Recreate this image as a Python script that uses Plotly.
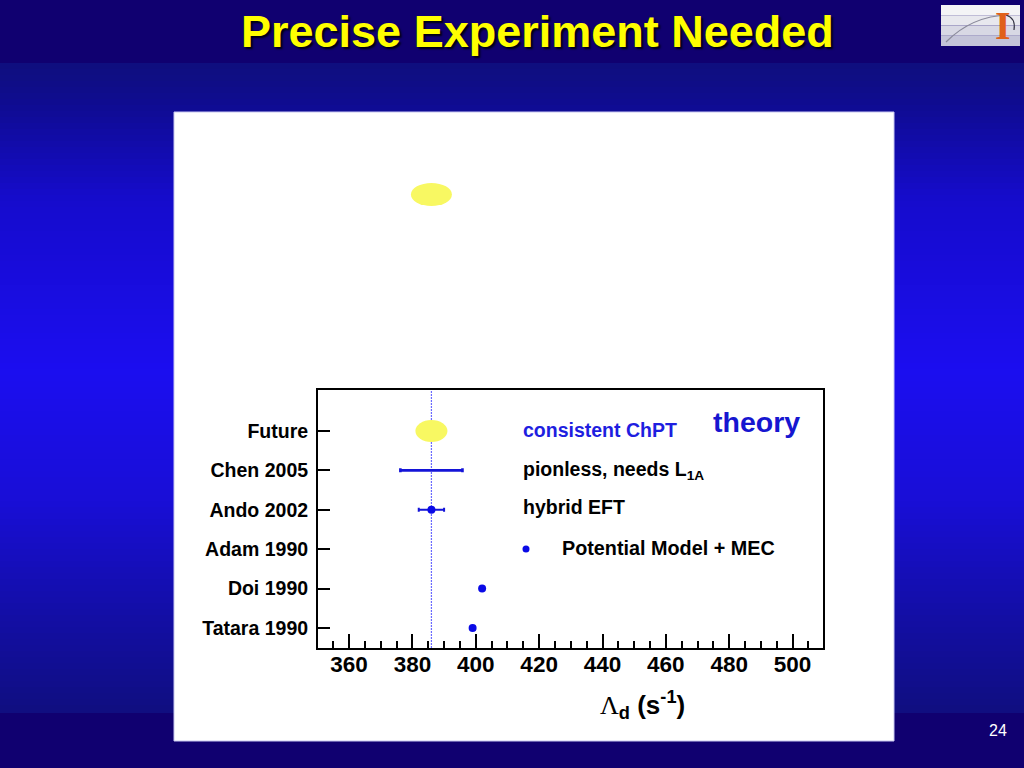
import numpy as np
import plotly.graph_objects as go

# ---------------- data ----------------
labels = ["Tatara 1990", "Doi 1990", "Adam 1990", "Ando 2002", "Chen 2005", "Future"]
ypos = [0, 1, 2, 3, 4, 5]

pot_labels = ["Tatara 1990", "Doi 1990"]
pot_values = [399.0, 402.0]

ando_value = [386.0]
ando_err = [4.0]

chen_value = [386.0]
chen_err = [9.8]

future_value = 386.0

x_tickvals = [360, 380, 400, 420, 440, 460, 480, 500]

W, H = 1024, 768
def px(x):
    return x / W
def py(y):
    return 1 - y / H

ymap = dict(zip(labels, ypos))

fig = go.Figure()

BLUE = "#0a0ae6"

# Chen 2005 (error bar only)
fig.add_trace(go.Scatter(
    x=chen_value, y=[ymap["Chen 2005"]], mode="markers",
    marker=dict(size=1, color="rgba(0,0,0,0)"),
    error_x=dict(type="data", array=chen_err, color="#1414d8", thickness=2.6, width=2),
    showlegend=False, hoverinfo="skip"))

# Ando 2002
fig.add_trace(go.Scatter(
    x=ando_value, y=[ymap["Ando 2002"]], mode="markers",
    marker=dict(size=8, color=BLUE),
    error_x=dict(type="data", array=ando_err, color="#1414d8", thickness=2, width=2),
    showlegend=False, hoverinfo="skip"))

# Potential model + MEC
fig.add_trace(go.Scatter(
    x=pot_values, y=[ymap[l] for l in pot_labels], mode="markers",
    marker=dict(size=8, color=BLUE),
    showlegend=False, hoverinfo="skip"))

shapes = []

# ---- slide background gradient ----
stops_y = [63, 98, 200, 370, 500, 600, 713]
stops_c = [(15, 15, 126), (15, 13, 142), (22, 12, 205), (28, 14, 240), (25, 14, 215), (20, 14, 172), (16, 14, 128)]
shapes.append(dict(type="rect", xref="paper", yref="paper", x0=0, x1=1, y0=0, y1=1,
                   fillcolor="rgb(16,0,112)", line=dict(width=0), layer="below"))
band = 6
for y0 in range(63, 713, band):
    yc = y0 + band / 2
    c = [int(np.interp(yc, stops_y, [s[i] for s in stops_c])) for i in range(3)]
    shapes.append(dict(type="rect", xref="paper", yref="paper", x0=0, x1=1,
                       y0=py(min(y0 + band, 713)), y1=py(y0),
                       fillcolor=f"rgb({c[0]},{c[1]},{c[2]})", line=dict(width=0), layer="below"))

# white panel
shapes.append(dict(type="rect", xref="paper", yref="paper", x0=px(174), x1=px(894),
                   y0=py(741), y1=py(112), fillcolor="white",
                   line=dict(color="#c8c8f0", width=1), layer="below"))

# logo box
logo_c = ["#f4f4f6", "#e8e8ee", "#d8d8e4", "#c4c4d8"]
for i, c in enumerate(logo_c):
    yy0 = 5 + i * 41 / 4
    shapes.append(dict(type="rect", xref="paper", yref="paper", x0=px(941), x1=px(1020),
                       y0=py(yy0 + 41 / 4), y1=py(yy0), fillcolor=c, line=dict(width=0), layer="below"))
shapes.append(dict(type="path", xref="paper", yref="paper",
                   path=f"M {px(946)},{py(42)} Q {px(972)},{py(16)} {px(1008)},{py(15)}",
                   line=dict(color="#8a8a9a", width=1.2), layer="below"))
shapes.append(dict(type="path", xref="paper", yref="paper",
                   path=f"M {px(1006)},{py(15)} Q {px(1016)},{py(18)} {px(1014)},{py(30)}",
                   line=dict(color="#303040", width=1.2), layer="below"))

# upper yellow blob (same x as the Future marker)
shapes.append(dict(type="circle", xref="x", yref="paper",
                   xsizemode="pixel", xanchor=future_value, x0=-20.5, x1=20.5,
                   ysizemode="pixel", yanchor=py(194.5), y0=-11.5, y1=11.5,
                   fillcolor="#f8f862", line=dict(width=0), layer="below"))

# Future ellipse
shapes.append(dict(type="circle", xref="x", yref="y",
                   xsizemode="pixel", xanchor=future_value, x0=-16, x1=16,
                   ysizemode="pixel", yanchor=ymap["Future"], y0=-11, y1=11,
                   fillcolor="#f8f862", line=dict(width=0), layer="below"))

# vertical dotted reference line
shapes.append(dict(type="line", xref="x", yref="y domain", x0=future_value, x1=future_value,
                   y0=0, y1=1, line=dict(color="#6a6aff", width=1.2, dash="2px,1px"), layer="below"))

# legend bullet
shapes.append(dict(type="circle", xref="paper", yref="paper",
                   xsizemode="pixel", xanchor=px(526), x0=-3.5, x1=3.5,
                   ysizemode="pixel", yanchor=py(549), y0=-3.5, y1=3.5,
                   fillcolor=BLUE, line=dict(width=0)))

FONT = "Liberation Sans, Arial, Helvetica, sans-serif"

annotations = [
    dict(text="Precise Experiment Needed", x=px(537), y=py(32), xref="paper", yref="paper",
         showarrow=False, xanchor="center", yanchor="middle",
         font=dict(family=FONT, size=45, color="#ffff00", weight="bold",
                   shadow="2px 2px 2px #000010")),
    dict(text="I", x=px(1003), y=py(26), xref="paper", yref="paper", showarrow=False,
         xanchor="center", yanchor="middle",
         font=dict(family="Liberation Serif, Times New Roman, serif", size=40, color="#e0601a", weight="bold")),
    dict(text="24", x=px(998), y=py(730), xref="paper", yref="paper", showarrow=False,
         xanchor="center", yanchor="middle", font=dict(family=FONT, size=16, color="white")),
    dict(text="consistent ChPT", x=px(521), y=py(430), xref="paper", yref="paper", showarrow=False,
         xanchor="left", yanchor="middle", font=dict(family=FONT, size=19.5, color="#1e1ee0", weight="bold")),
    dict(text="theory", x=px(711), y=py(422), xref="paper", yref="paper", showarrow=False,
         xanchor="left", yanchor="middle", font=dict(family=FONT, size=28.5, color="#1616d0", weight="bold")),
    dict(text="pionless, needs L<sub>1A</sub>", x=px(521), y=py(470), xref="paper", yref="paper", showarrow=False,
         xanchor="left", yanchor="middle", font=dict(family=FONT, size=19.5, color="black", weight="bold")),
    dict(text="hybrid EFT", x=px(521), y=py(507), xref="paper", yref="paper", showarrow=False,
         xanchor="left", yanchor="middle", font=dict(family=FONT, size=19.5, color="black", weight="bold")),
    dict(text="Potential Model + MEC", x=px(560), y=py(548), xref="paper", yref="paper", showarrow=False,
         xanchor="left", yanchor="middle", font=dict(family=FONT, size=19.8, color="black", weight="bold")),
    dict(text="<span style='font-family:Liberation Serif,Times New Roman,serif;font-weight:normal'>Λ</span>"
              "<sub>d</sub> (s<sup>-1</sup>)",
         x=px(642), y=py(705), xref="paper", yref="paper", showarrow=False,
         xanchor="center", yanchor="middle", font=dict(family=FONT, size=26, color="black", weight="bold")),
]

fig.update_layout(
    width=W, height=H,
    margin=dict(l=0, r=0, t=0, b=0),
    paper_bgcolor="rgb(16,0,112)",
    plot_bgcolor="rgba(0,0,0,0)",
    shapes=shapes,
    annotations=annotations,
    showlegend=False,
    xaxis=dict(
        domain=[px(318), px(823)], range=[350.2, 509.6],
        tickmode="array", tickvals=x_tickvals, ticktext=[str(v) for v in x_tickvals],
        ticks="inside", ticklen=14, tickwidth=2, tickcolor="black",
        minor=dict(dtick=5, tick0=0, ticks="inside", ticklen=7, tickwidth=1.5, tickcolor="black", showgrid=False),
        showline=True, linecolor="black", linewidth=2, mirror=True,
        showgrid=False, zeroline=False, automargin=False,
        ticklabelstandoff=-5,
        tickfont=dict(family=FONT, size=22.5, color="black", weight="bold"),
    ),
    yaxis=dict(
        domain=[py(648), py(390)], range=[-0.51, 6.04],
        tickmode="array", tickvals=ypos, ticktext=labels,
        ticks="inside", ticklen=12, tickwidth=2, tickcolor="black",
        showline=True, linecolor="black", linewidth=2, mirror=True,
        showgrid=False, zeroline=False, automargin=False,
        ticklabelstandoff=4,
        tickfont=dict(family=FONT, size=19.5, color="black", weight="bold"),
    ),
)

fig.write_html("out.html", config={"displayModeBar": False},
               post_script="document.body.style.margin='0';document.body.style.overflow='hidden';")
